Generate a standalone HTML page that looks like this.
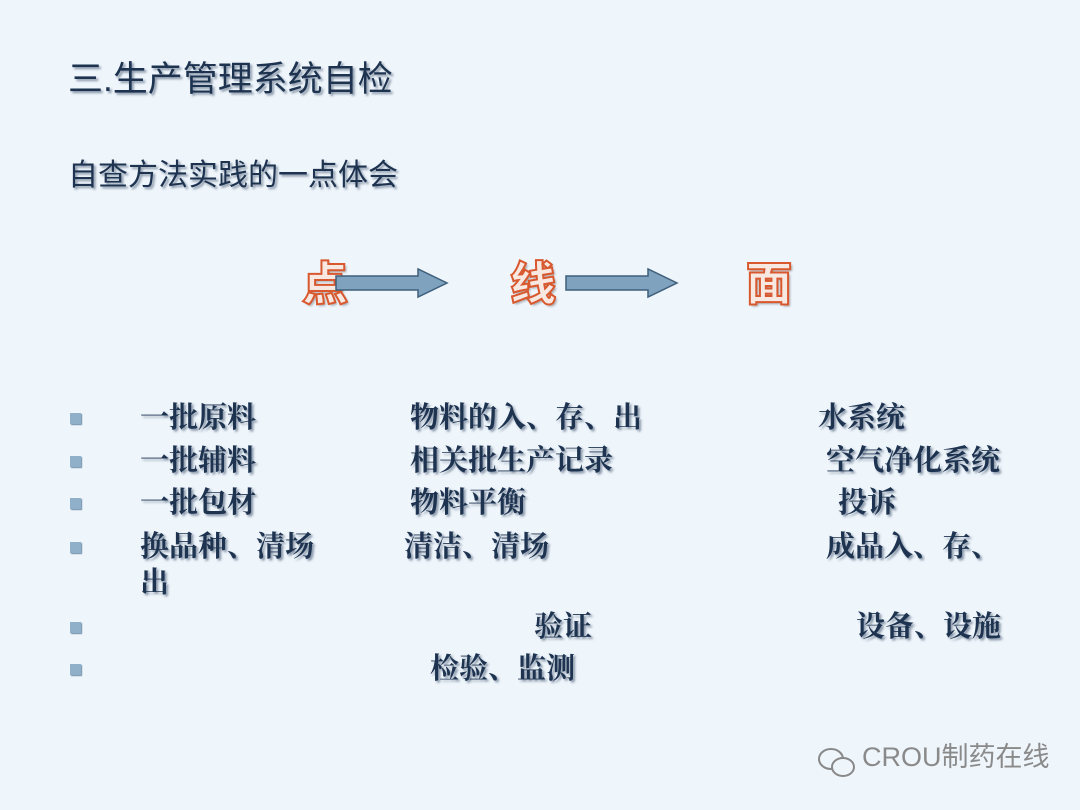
<!DOCTYPE html>
<html><head><meta charset="utf-8"><style>
body{margin:0;width:1080px;height:810px;background:#eef5fb;overflow:hidden;position:relative;font-family:"Liberation Serif","Noto Serif CJK SC",serif}
.t{position:absolute;white-space:nowrap;color:#1d3350;font-weight:bold;line-height:1;text-shadow:2px 2px 2px rgba(40,60,90,.5)}
.b{position:absolute;left:70px;width:11px;height:11px;background:#8fb0c8;box-shadow:1px 1px 1px #6a8aa5}
.big{position:absolute;font-family:"Noto Sans CJK SC",sans-serif;font-weight:900;font-size:46px;line-height:1;color:#f7e9e2;-webkit-text-stroke:2px #d9582e;text-shadow:2px 2px 2px rgba(0,0,0,.3)}
</style></head><body>
<div class="t" style="left:68px;top:62px;font-size:35px;font-weight:normal;font-family:'Liberation Sans','Noto Sans CJK SC',sans-serif">三.生产管理系统自检</div>
<div class="t" style="left:68px;top:161px;font-size:30px;font-weight:normal;font-family:'Liberation Sans','Noto Sans CJK SC',sans-serif">自查方法实践的一点体会</div>

<div class="big" style="left:302px;top:258px">点</div>
<div class="big" style="left:510px;top:258px">线</div>
<div class="big" style="left:746px;top:258px">面</div>
<svg style="position:absolute;left:0;top:0" width="1080" height="810">
<polygon points="336,276 418,276 418,269 447,283 418,297 418,290 336,290" fill="#7fa3be" stroke="#3f5f7c" stroke-width="1.5"/>
<polygon points="566,276 648,276 648,269 677,283 648,297 648,290 566,290" fill="#7fa3be" stroke="#3f5f7c" stroke-width="1.5"/>
</svg>

<div class="b" style="top:413px"></div>
<div class="b" style="top:456px"></div>
<div class="b" style="top:498px"></div>
<div class="b" style="top:542px"></div>
<div class="b" style="top:622px"></div>
<div class="b" style="top:664px"></div>

<div class="t" style="left:140px;top:404px;font-size:29px">一批原料</div>
<div class="t" style="left:140px;top:447px;font-size:29px">一批辅料</div>
<div class="t" style="left:140px;top:489px;font-size:29px">一批包材</div>
<div class="t" style="left:140px;top:533px;font-size:29px">换品种、清场</div>
<div class="t" style="left:140px;top:569px;font-size:29px">出</div>

<div class="t" style="left:410px;top:404px;font-size:29px">物料的入、存、出</div>
<div class="t" style="left:410px;top:447px;font-size:29px">相关批生产记录</div>
<div class="t" style="left:410px;top:489px;font-size:29px">物料平衡</div>
<div class="t" style="left:404px;top:533px;font-size:29px">清洁、清场</div>
<div class="t" style="left:534px;top:613px;font-size:29px">验证</div>
<div class="t" style="left:430px;top:655px;font-size:29px">检验、监测</div>

<div class="t" style="left:818px;top:404px;font-size:29px">水系统</div>
<div class="t" style="left:826px;top:447px;font-size:29px">空气净化系统</div>
<div class="t" style="left:838px;top:489px;font-size:29px">投诉</div>
<div class="t" style="left:826px;top:533px;font-size:29px">成品入、存、</div>
<div class="t" style="left:856px;top:613px;font-size:29px">设备、设施</div>

<svg style="position:absolute;left:816px;top:746px" width="42" height="34" viewBox="0 0 42 34">
<ellipse cx="15" cy="13" rx="12" ry="10" fill="none" stroke="#888" stroke-width="2"/>
<ellipse cx="27" cy="21" rx="11" ry="9" fill="#eef5fb" stroke="#888" stroke-width="2"/>
</svg>
<div style="position:absolute;left:862px;top:744px;font-size:27px;color:#8a8a8a;font-family:'Liberation Sans','Noto Sans CJK SC',sans-serif;line-height:1">CROU制药在线</div>
</body></html>
